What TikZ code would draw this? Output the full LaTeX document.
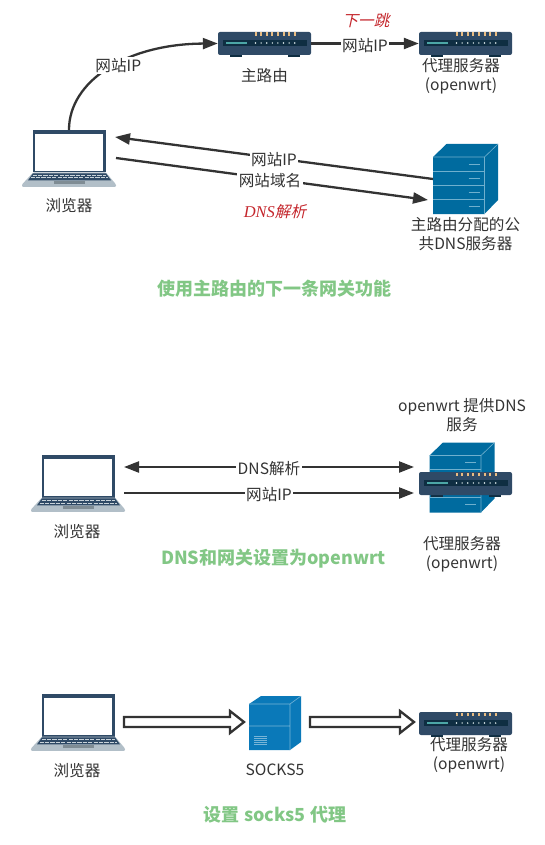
\documentclass[tikz,border=0pt]{standalone}
\usepackage{fontspec}
\setmainfont{Noto Sans CJK SC}
\newfontfamily\slantcjk[FakeSlant=0.22]{Noto Sans CJK SC}
\newfontfamily\dnsfont{Liberation Serif}
\usetikzlibrary{arrows.meta,positioning,calc}
\definecolor{inkdark}{HTML}{333333}
\definecolor{navy}{HTML}{2F4A66}
\definecolor{band}{HTML}{0F2E42}
\definecolor{srvfront}{HTML}{006B9F}
\definecolor{srvline}{HTML}{6FB0CE}
\definecolor{socksblue}{HTML}{0A79B9}
\definecolor{titlegreen}{HTML}{82C785}
\definecolor{notered}{HTML}{C4262C}
\definecolor{lapbase}{HTML}{B2BFC8}
\definecolor{lapkey}{HTML}{C9D3DA}
\definecolor{lappad}{HTML}{7F8C94}
\definecolor{peach}{HTML}{E9BC82}
\tikzset{
  lbl/.style={inner sep=0pt, align=center, text=inkdark, font=\fontsize{15.6}{19.3}\selectfont},
  onwire/.style={lbl, fill=white, inner xsep=1.5pt, inner ysep=1pt, yshift=-2pt},
  note/.style={inner sep=0pt, text=notered, font=\fontsize{15.6}{19}\selectfont},
  titletext/.style={inner sep=0pt, text=titlegreen, font=\fontsize{18}{21}\selectfont\bfseries},
  wire/.style={draw=inkdark, line width=2.3pt},
  wirehead/.style={wire, -{Triangle[length=15pt,width=11pt]}},
  wireboth/.style={wire, {Triangle[length=15pt,width=11pt]}-{Triangle[length=15pt,width=11pt]}},
  hollow/.style={draw=inkdark, line width=2.3pt, fill=white, line join=miter,
    to path={let \p1=(\tikztostart), \p2=(\tikztotarget) in
      (\x1,\y1-5pt) -- (\x2-14pt,\y1-5pt) -- (\x2-14pt,\y1-11pt) -- (\x2,\y1)
      -- (\x2-14pt,\y1+11pt) -- (\x2-14pt,\y1+5pt) -- (\x1,\y1+5pt) -- cycle}},
  laptopbox/.style={inner sep=0pt, minimum width=94pt, minimum height=57pt},
  routerbox/.style={inner sep=0pt, minimum width=93pt, minimum height=23pt},
  serverbox/.style={inner sep=0pt, minimum width=65pt, minimum height=70pt},
  socksbox/.style={inner sep=0pt, minimum width=52pt, minimum height=54pt},
  laptop/.pic={
    \fill[navy] (-36,-28.5) rectangle (37,14);
    \fill[white] (-33.7,-24.5) rectangle (34.3,12.8);
    \fill[lapbase, rounded corners=1pt] (-36,14) -- (37,14) -- (47,26) -- (47,28.3) -- (-47,28.3) -- (-47,26) -- cycle;
    \fill[navy] (-36,14.8) -- (37,14.8) -- (42,21.8) -- (-41,21.8) -- cycle;
    \foreach \r/\w in {16.8/36.5,19.3/38.5}
      \draw[lapkey, line width=.6pt, dash pattern=on 4.2pt off 1.2pt] (-\w,\r) -- (\w,\r);
    \fill[lappad] (-15,22.3) rectangle (16,25.6);
  },
  router/.pic={
    \fill[band] (-35,11.5) rectangle (-23,13.5);
    \fill[band] (23,11.5) rectangle (35,13.5);
    \fill[navy, rounded corners=2pt] (-46.5,-11.5) rectangle (46.5,11.5);
    \fill[band] (-42,-3.5) rectangle (42,2.5);
    \fill[teal!70!white] (-39,-1.5) rectangle (-18,.5);
    \foreach \k in {0,...,7} {
      \fill[peach] (-10+5.6*\k,-11) rectangle +(2,3.8);
      \fill[white!90!teal] (-9+5.6*\k,-.5) circle (.8);
    }
  },
  server/.pic={
    \fill[srvfront] (-32.5,-22) -- (-19,-35) -- (32.5,-35) -- (32.5,21) -- (19,35) -- (-32.5,35) -- cycle;
    \draw[srvline, line width=.6pt] (-32.5,-22) -- (19,-22) -- (19,35) (19,-22) -- (32.5,-35);
    \foreach \r in {-8,6,20}
      \draw[srvline, line width=.7pt] (-32.5,\r) -- (19,\r);
    \foreach \r in {-15,-1,13,27}
      \draw[srvline, line width=.8pt] (3,\r) -- (14,\r);
  },
  socks/.pic={
    \fill[socksblue] (-26,-19) -- (-14,-27) -- (26,-27) -- (26,19) -- (15,27) -- (-26,27) -- cycle;
    \draw[white!45!socksblue, line width=.6pt] (-26,-19) -- (15,-19) -- (15,27) (15,-19) -- (26,-27) (-26,3) -- (15,3);
    \foreach \r in {13,15,...,22}
      \draw[white!45!socksblue, line width=.7pt] (-21,\r) -- (-8,\r);
  },
}
\begin{document}
\begin{tikzpicture}[x=1pt,y=-1pt]
  \useasboundingbox (0,0) rectangle (545,845);
  % upper group
  \node[laptopbox] (pc1) at (69,158.5) {};
  \node[routerbox] (rt1) at (264.5,43.5) {};
  \node[routerbox] (px1) at (465.5,43.5) {};
  \node[serverbox] (dns1) at (465.5,179) {};
  \pic at (pc1) {laptop};
  \pic at (rt1) {router};
  \pic at (px1) {router};
  \pic at (dns1) {server};
  \node[lbl] (pc1t) [below =11pt of pc1] {浏览器};
  \node[lbl] (rt1t) [below =13pt of rt1] {主路由};
  \node[lbl] (px1t) [below =3pt of px1, xshift=-4.5pt] {代理服务器\\(openwrt)};
  \node[lbl] (dns1t) [below =2.5pt of dns1] {主路由分配的公\\共DNS服务器};
  % free ends beside the icons
  \coordinate (a1) at (115,137);
  \coordinate (a2) at (433,179);
  \coordinate (b1) at (116,158);
  \coordinate (b2) at (428,200);
  \draw[wirehead] (pc1.north) .. controls (69,82) and (125,44) .. node[onwire, pos=.56] {网站IP} (rt1.west);
  \draw[wirehead] (rt1.east) -- node[onwire] {网站IP} (px1.west);
  \draw[wirehead] (a2) -- node[onwire, pos=.5] {网站IP} (a1);
  \draw[wirehead] (b1) -- node[onwire, pos=.5, xshift=-2pt] {网站域名} (b2);
  \node[note] (hop) at (366,21) {\slantcjk 下一跳};
  \node[note] (parse) at (275,211.5) {{\dnsfont\itshape\fontsize{16.5}{19}\selectfont DNS}\slantcjk 解析};
  \node[titletext] (cap1) at (274.5,289) {使用主路由的下一条网关功能};
  % middle group
  \node[laptopbox] (pc2) at (78,483.5) {};
  \node[serverbox] (dns2) at (462,477.5) {};
  \node[routerbox] (px2) at (465.5,483.5) {};
  \pic at (pc2) {laptop};
  \pic at (dns2) {server};
  \pic at (px2) {router};
  \node[lbl] (pc2t) [below =12pt of pc2, xshift=-1pt] {浏览器};
  \node[lbl] (px2t) at (462,554) {代理服务器\\(openwrt)};
  \node[lbl] (dns2t) at (462,415) {openwrt 提供DNS\\服务};
  \coordinate (c1) at (124,467);
  \coordinate (c2) at (414,467);
  \coordinate (d1) at (124,493);
  \coordinate (d2) at (414,493);
  \draw[wireboth] (c1) -- node[onwire] {DNS解析} (c2);
  \draw[wirehead] (d1) -- node[onwire] {网站IP} (d2);
  \node[titletext] (cap2) at (273.5,559) {DNS和网关设置为openwrt};
  % lower group
  \node[laptopbox] (pc3) at (78,722.5) {};
  \node[socksbox] (sk) at (275,723) {};
  \node[routerbox] (px3) at (465.5,723.5) {};
  \pic at (pc3) {laptop};
  \pic at (sk) {socks};
  \pic at (px3) {router};
  \node[lbl] (pc3t) [below =12pt of pc3, xshift=-1pt] {浏览器};
  \node[lbl] (skt) [below =13pt of sk] {SOCKS5};
  \node[lbl] (px3t) at (469,755) {代理服务器\\(openwrt)};
  \coordinate (e1) at (124,722);
  \coordinate (e2) at (244,722);
  \coordinate (f1) at (310,722);
  \coordinate (f2) at (414,722);
  \draw[hollow] (e1) to (e2);
  \draw[hollow] (f1) to (f2);
  \node[titletext] (cap3) at (275,815) {设置 socks5 代理};
\end{tikzpicture}
\end{document}
